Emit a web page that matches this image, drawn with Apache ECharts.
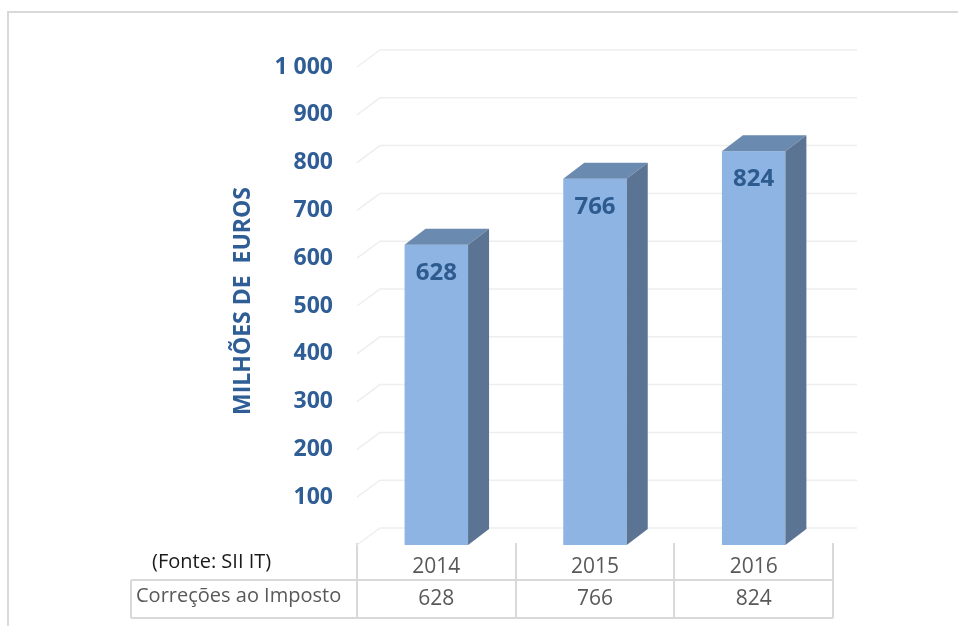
<!DOCTYPE html>
<html>
<head>
<meta charset="utf-8">
<script src="https://cdn.jsdelivr.net/npm/echarts@6/dist/echarts.min.js"></script>
<style>
  html, body { margin: 0; padding: 0; background: #fff; }
  #chart { width: 958px; height: 626px; }
</style>
</head>
<body>
<div id="chart"></div>
<script>
// dados
const anos = ['2014', '2015', '2016']
const valores = [628, 766, 824]
const serieNome = 'Correções ao Imposto'
const eixoNome = 'MILHÕES DE  EUROS'
const fonte = '(Fonte: SII IT)'
const ticks = [0, 100, 200, 300, 400, 500, 600, 700, 800, 900, 1000]

const azul = '#2f5d95'
const cinza = '#595959'
const linha = '#d9d9d9'
const FONT = '"Open Sans", sans-serif'

// profundidade 3D
const dxWall = 23, dyWall = 17
const dxBar = 21, dyBar = 16

const chart = echarts.init(document.getElementById('chart'))

chart.setOption({
  animation: false,
  textStyle: { fontFamily: FONT },
  grid: { left: 357, right: 125, top: 67, bottom: 81 },
  xAxis: [
    {
      type: 'category',
      data: anos,
      axisLine: { show: false },
      axisTick: { show: false },
      axisLabel: { margin: 12, fontSize: 21, color: cinza, fontFamily: FONT }
    },
    {
      type: 'category',
      position: 'bottom',
      data: valores.map(String),
      axisLine: { show: false },
      axisTick: { show: false },
      axisLabel: { margin: 44, fontSize: 21, color: cinza, fontFamily: FONT }
    }
  ],
  yAxis: {
    type: 'value',
    min: 0,
    max: 1000,
    interval: 100,
    name: eixoNome,
    nameLocation: 'middle',
    nameRotate: 90,
    nameGap: 102,
    nameTextStyle: { fontSize: 23, fontWeight: 'bold', color: azul, fontFamily: FONT, padding: [0, 0, 0, 10] },
    axisLine: { show: false },
    axisTick: { show: false },
    splitLine: { show: false },
    axisLabel: {
      margin: 24,
      fontSize: 23,
      fontWeight: 'bold',
      color: azul,
      fontFamily: FONT,
      formatter: v => v === 0 ? '' : String(v).replace(/\B(?=(\d{3})+(?!\d))/g, ' ')
    }
  },
  series: [
    {
      // linhas de grelha (parede + chão)
      type: 'custom',
      silent: true,
      z: 1,
      data: ticks.map(t => [0, t]),
      encode: { x: 0, y: 1 },
      renderItem: (params, api) => {
        const cs = params.coordSys
        const y = api.coord([0, api.value(1)])[1]
        return {
          type: 'polyline',
          shape: { points: [[cs.x, y], [cs.x + dxWall, y - dyWall], [cs.x + cs.width + dxWall + 1, y - dyWall]] },
          style: { stroke: '#eeeeee', lineWidth: 1.5, fill: null }
        }
      }
    },
    {
      name: serieNome,
      type: 'custom',
      z: 3,
      data: valores.map((v, i) => [i, v]),
      encode: { x: 0, y: 1 },
      renderItem: (params, api) => {
        const p = api.coord([api.value(0), api.value(1)])
        const p0 = api.coord([api.value(0), 0])
        const w = api.size([1, 0])[0] * 0.4
        const x1 = p[0] - w / 2, x2 = p[0] + w / 2
        const y = p[1], y0 = p0[1]
        return {
          type: 'group',
          children: [
            {
              type: 'rect',
              shape: { x: x1, y: y, width: w, height: y0 - y },
              style: { fill: '#8db4e2' }
            },
            {
              type: 'polygon',
              shape: { points: [[x1, y], [x1 + dxBar, y - dyBar], [x2 + dxBar, y - dyBar], [x2, y]] },
              style: { fill: '#6b8ab0' }
            },
            {
              type: 'polygon',
              shape: { points: [[x2, y], [x2 + dxBar, y - dyBar], [x2 + dxBar, y0 - dyBar], [x2, y0]] },
              style: { fill: '#5b7493' }
            },
            {
              type: 'text',
              style: {
                x: p[0], y: y + 28,
                text: String(api.value(1)),
                align: 'center', verticalAlign: 'middle',
                font: 'bold 24px ' + FONT,
                fill: '#2e5b8f'
              }
            }
          ]
        }
      }
    }
  ],
  graphic: [
    // moldura
    { type: 'rect', shape: { x: 8, y: 12, width: 1000, height: 700 }, style: { fill: null, stroke: linha, lineWidth: 2 }, silent: true },
    // tabela
    { type: 'line', shape: { x1: 357, y1: 543, x2: 357, y2: 618 }, style: { stroke: linha, lineWidth: 2 } },
    { type: 'line', shape: { x1: 516, y1: 543, x2: 516, y2: 618 }, style: { stroke: linha, lineWidth: 2 } },
    { type: 'line', shape: { x1: 674, y1: 543, x2: 674, y2: 618 }, style: { stroke: linha, lineWidth: 2 } },
    { type: 'line', shape: { x1: 833, y1: 543, x2: 833, y2: 618 }, style: { stroke: linha, lineWidth: 2 } },
    { type: 'line', shape: { x1: 131, y1: 580, x2: 833, y2: 580 }, style: { stroke: linha, lineWidth: 2 } },
    { type: 'line', shape: { x1: 131, y1: 618, x2: 833, y2: 618 }, style: { stroke: linha, lineWidth: 2 } },
    { type: 'line', shape: { x1: 131, y1: 580, x2: 131, y2: 618 }, style: { stroke: linha, lineWidth: 2 } },
    {
      type: 'text', left: 136, top: 586,
      style: { text: serieNome, font: '20px ' + FONT, fill: cinza }
    },
    {
      type: 'text', left: 152, top: 552,
      style: { text: fonte, font: '20px ' + FONT, fill: '#1a1a1a' }
    }
  ]
})
</script>
</body>
</html>
